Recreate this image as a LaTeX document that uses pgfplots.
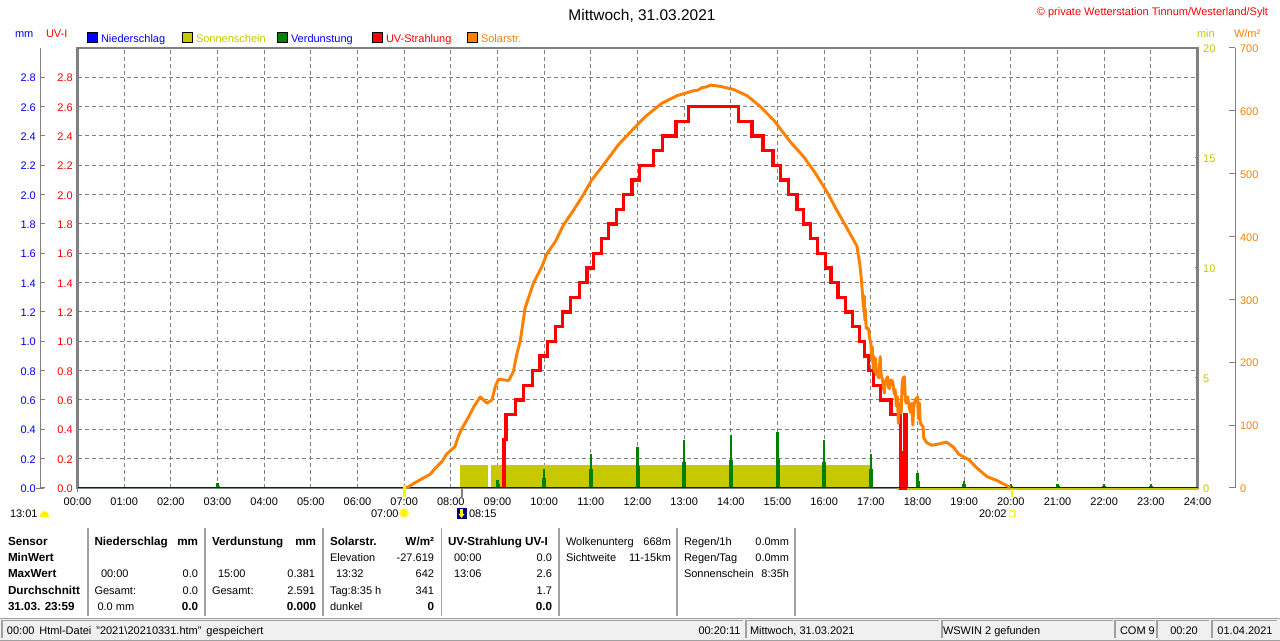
\documentclass[border=0pt]{standalone}
\usepackage{pgfplots}
\pgfplotsset{compat=1.18}
\usepackage{fontspec}
\setmainfont{Liberation Sans}
\definecolor{gridgray}{HTML}{808080}
\definecolor{olive}{HTML}{C8C800}
\definecolor{dgreen}{HTML}{008000}
\definecolor{uvred}{HTML}{FF0000}
\definecolor{solar}{HTML}{FF8000}
\definecolor{mmblue}{HTML}{0000FF}
\definecolor{sep}{HTML}{A0A0A0}
\definecolor{panel}{HTML}{F0F0F0}
\newcommand{\nf}{\fontsize{8.25pt}{10pt}\selectfont}
\newcommand{\bfn}{\fontsize{8.75pt}{10pt}\selectfont\bfseries}
\pgfplotsset{
  base/.style={at={(58.125pt,114.75pt)},anchor=south west,scale only axis,
    width=840pt,height=330pt,xmin=0,xmax=24,
    /pgf/number format/assume math mode=true,
    tick label style={font=\nf},
    major tick length=2.25pt},
  overlayaxis/.style={base,hide axis,ymin=0,clip=false}
}
\begin{document}
\begin{tikzpicture}
\path[use as bounding box,fill=white] (0,0) rectangle (960pt,480.75pt);

% frame, grid, time axis and UV-I labels
\begin{axis}[base,ymin=0,ymax=3,
  xtick={0,1,...,24},
  xticklabels={00:00,01:00,02:00,03:00,04:00,05:00,06:00,07:00,08:00,09:00,10:00,11:00,12:00,13:00,14:00,15:00,16:00,17:00,18:00,19:00,20:00,21:00,22:00,23:00,24:00},
  ytick={0,0.2,...,2.8},
  yticklabel style={uvred,yshift=-0.6pt,/pgf/number format/fixed,/pgf/number format/fixed zerofill,/pgf/number format/precision=1},
  xticklabel style={black,yshift=-4.2pt},
  tick style={draw=none},
  grid=major,
  grid style={gridgray,line width=0.75pt,dash pattern=on 3pt off 2.25pt},
  axis line style={gridgray,line width=2pt}]
\addplot[draw=none,forget plot] coordinates {(0,0)(24,0)};
\end{axis}

% Sonnenschein, min axis on the right
\begin{axis}[base,ymin=0,ymax=20,clip=false,
  axis y line*=right,axis x line=none,
  ytick={0,5,10,15,20},
  yticklabel style={olive,xshift=0.7pt,yshift=-0.6pt},
  tick style={gridgray,line width=0.75pt},
  axis line style={gridgray,line width=2pt}]
\addplot[fill=olive,draw=none] coordinates {(8.20,0)(8.20,1.05)(8.80,1.05)(8.80,0)} --cycle;
\addplot[fill=olive,draw=none] coordinates {(8.865,0)(8.865,1.05)(17.0,1.05)(17.0,0)} --cycle;
\addplot[olive,line width=1.5pt] coordinates {(17.56,-0.05)(24,-0.05)};
\end{axis}

% Niederschlag, Verdunstung, UV
\begin{axis}[overlayaxis,ymax=3]
% Verdunstung: lower, broad part of each spike
\addplot[ycomb,dgreen,line width=3pt] coordinates {
 (3,0.012)(9,0.025)(10,0.07)(11,0.13)(12,0.15)(13,0.18)(14,0.19)(15,0.20)(16,0.18)(17,0.13)(18,0.05)(19,0.025)(20,0.012)(21,0.012)(22,0.012)(23,0.012)};
% Verdunstung: peak of each spike
\addplot[ycomb,dgreen,line width=1.9pt] coordinates {
 (3,0.035)(9,0.055)(10,0.13)(11,0.235)(12,0.28)(13,0.33)(14,0.36)(15,0.381)(16,0.33)(17,0.235)(18,0.10)(19,0.05)(20,0.03)(21,0.03)(22,0.03)(23,0.03)};
% UV
\addplot[const plot,uvred,line width=2.5pt,line join=miter] coordinates {
 (9.14,0)(9.14,0.33)(9.18,0.5)(9.379,0.6)(9.557,0.7)(9.75,0.8)(9.914,0.9)(10.072,1.0)(10.24,1.1)(10.39,1.2)
 (10.558,1.3)(10.758,1.4)(10.915,1.5)(11.058,1.6)(11.222,1.7)(11.38,1.8)(11.544,1.9)(11.701,2.0)(11.88,2.1)
 (12.044,2.2)(12.344,2.3)(12.537,2.4)(12.823,2.5)(13.094,2.6)(14.166,2.5)(14.452,2.4)(14.688,2.3)(14.902,2.2)
 (15.059,2.1)(15.238,2.0)(15.417,1.9)(15.56,1.8)(15.703,1.7)(15.86,1.6)(16.024,1.5)(16.146,1.4)(16.296,1.3)
 (16.453,1.2)(16.609,1.1)(16.759,1.0)(16.867,0.9)(16.952,0.8)(17.06,0.7)(17.2,0.6)(17.43,0.5)(17.63,0)
 (17.665,0.24)(17.69,0)(17.725,0.5)(17.75,0)(17.76,0)};
% Niederschlag
\addplot[mmblue,line width=1.1pt] coordinates {(0,0.004)(24,0.004)};
\end{axis}

% Solarstrahlung
\begin{axis}[overlayaxis,ymax=700]
\addplot[solar,line width=2.2pt,line join=round] coordinates {
 (7.02,0)(7.09,2)(7.20,7)(7.34,13)(7.56,22)(7.66,31)(7.81,42)(7.91,54)(8.09,66)(8.16,82)(8.24,95)(8.38,113)
 (8.49,129)(8.63,145)(8.77,135)(8.88,140)(8.95,161)(9.02,173)(9.24,171)(9.34,185)(9.41,212)(9.49,235)(9.59,286)
 (9.77,326)(9.95,352)(10.06,373)(10.24,392)(10.41,418)(10.63,442)(10.81,463)(11.02,490)(11.27,514)(11.59,546)
 (11.92,572)(12.17,591)(12.52,612)(12.84,624)(13.20,632)(13.30,633)(13.38,637)(13.47,638)(13.57,641)(13.77,639)(14.06,634)(14.35,624)
 (14.63,607)(14.92,585)(15.27,551)(15.56,527)(15.81,501)(16.06,471)(16.27,442)(16.49,413)(16.70,385)(16.76,358)
 (16.80,330)(16.83,299)(16.85,283)(16.86,305)(16.87,267)(16.88,285)(16.90,254)(16.95,254)(16.97,240)(17.00,230)(17.02,205)
 (17.03,225)(17.05,190)(17.06,210)(17.08,185)(17.10,206)(17.12,180)(17.13,190)(17.17,175)(17.20,209)(17.22,180)(17.25,172)
 (17.27,160)(17.29,151)(17.31,170)(17.36,177)(17.38,160)(17.40,158)(17.43,172)(17.47,169)(17.50,150)(17.52,156)(17.55,130)(17.57,145)
 (17.59,103)(17.61,135)(17.65,119)(17.67,165)(17.69,175)(17.72,177)(17.74,140)(17.76,135)(17.79,145)(17.82,129)(17.85,120)(17.88,135)(17.90,100)
 (17.92,130)(17.95,140)(18.00,145)(18.02,110)(18.04,135)(18.06,103)(18.12,97)(18.13,80)(18.20,72)(18.31,68)(18.45,70)
 (18.62,73)(18.77,65)(18.88,54)(19.10,45)(19.27,32)(19.49,18)(19.70,12)(19.88,5)(19.99,1)};
\end{axis}

% outer mm axis on the far left
\begin{axis}[at={(30.4pt,114.75pt)},anchor=south west,scale only axis,width=1pt,height=330pt,
  xmin=0,xmax=1,ymin=0,ymax=3,axis y line*=left,axis x line=none,
  /pgf/number format/assume math mode=true,tick label style={font=\nf},
  major tick length=3.4pt,
  ytick={0,0.2,...,2.8},
  yticklabel style={mmblue,yshift=-0.6pt,/pgf/number format/fixed,/pgf/number format/fixed zerofill,/pgf/number format/precision=1},
  tick style={gridgray,line width=0.75pt},
  axis line style={gridgray,line width=0.9pt}]
\addplot[draw=none,forget plot] coordinates {(0,0)(1,0)};
\end{axis}

% outer W/m2 axis on the far right
\begin{axis}[at={(925.5pt,114.75pt)},anchor=south west,scale only axis,width=1pt,height=330pt,
  xmin=0,xmax=1,ymin=0,ymax=700,axis y line*=right,axis x line=none,
  /pgf/number format/assume math mode=true,tick label style={font=\nf},
  major tick length=4.5pt,
  ytick={0,100,...,700},
  yticklabel style={solar,yshift=-0.6pt},
  tick style={gridgray,line width=0.75pt},
  axis line style={gridgray,line width=0.9pt}]
\addplot[draw=none,forget plot] coordinates {(0,0)(1,0)};
\end{axis}

% everything else in pixel coordinates of the reference
\begin{scope}[shift={(0,480.75pt)},x=0.75pt,y=-0.75pt,inner sep=0pt,outer sep=0pt]
\newcommand{\tl}[3]{\node[anchor=base west,font=\nf] at (#1,#2) {#3};}
\newcommand{\tr}[3]{\node[anchor=base east,font=\nf] at (#1,#2) {#3};}
\newcommand{\bl}[3]{\node[anchor=base west,font=\bfn] at (#1,#2) {#3};}
\newcommand{\br}[3]{\node[anchor=base east,font=\bfn] at (#1,#2) {#3};}
% title
\node[anchor=base,font=\fontsize{11.6pt}{13pt}\selectfont] at (642,20.5) {Mittwoch, 31.03.2021};
\node[anchor=base east,font=\nf,text=uvred] at (1268,16) {© private Wetterstation Tinnum/Westerland/Sylt};
% unit labels
\node[anchor=base west,font=\nf,text=mmblue] at (15,38) {mm};
\node[anchor=base west,font=\nf,text=uvred] at (46,38) {UV-I};
\node[anchor=base west,font=\nf,text=olive] at (1197,38) {min};
\node[anchor=base west,font=\nf,text=solar] at (1234,38) {W/m²};
% legend
\foreach \x/\c in {87/mmblue,182/olive,277/dgreen,372/uvred,467/solar}{
  \fill[\c,draw=black,line width=0.75pt] (\x,33) rectangle (\x+10,43);}
\node[anchor=base west,font=\nf,text=mmblue] at (101,43) {Niederschlag};
\node[anchor=base west,font=\nf,text=olive] at (196,43) {Sonnenschein};
\node[anchor=base west,font=\nf,text=mmblue] at (291,43) {Verdunstung};
\node[anchor=base west,font=\nf,text=uvred] at (386,43) {UV-Strahlung};
\node[anchor=base west,font=\nf,text=solar] at (481,43) {Solarstr.};
% small axis stubs and sun markers below the axis
\fill[gridgray] (36,488) rectangle (44,489);
\fill[gridgray] (76.5,488) rectangle (78,492);
\fill[yellow] (403,485) rectangle (405.5,497);
\fill[gridgray] (460.5,489) rectangle (463,497);
\fill[yellow] (1010.5,489) rectangle (1013,497);
\tl{10}{518}{13:01}
\fill[yellow] (40,517) arc (180:360:4.5 and 6) -- cycle;
\tl{371}{518}{07:00}
\fill[yellow!70!white] (404,513) circle (5);
\fill[yellow] (404,513) circle (3);
\fill[blue!50!black] (457,508) rectangle (467,519);
\fill[yellow] (460,509) rectangle (463,514);
\fill[yellow] (458.5,514) -- (464.5,514) -- (461.5,518) -- cycle;
\tl{469}{518}{08:15}
\tl{979}{518}{20:02}
\draw[yellow!70!white,line width=0.9pt] (1009.5,511) rectangle (1015,516.5);
% table separators
\foreach \x in {88,205,323,441.5,559,677,795}{
  \draw[sep,line width=1.1pt] (\x,528) -- (\x,616);}
% column 1
\bl{8}{546}{Sensor}\bl{8}{562}{MinWert}\bl{8}{578}{MaxWert}\bl{8}{595}{Durchschnitt}\bl{8}{611}{31.03. 23:59}
% Niederschlag
\bl{94.5}{546}{Niederschlag}\br{198}{546}{mm}
\tl{101}{578}{00:00}\tr{198}{578}{0.0}
\tl{94.5}{595}{Gesamt:}\tr{198}{595}{0.0}
\tl{97.5}{611}{0.0 mm}\br{198}{611}{0.0}
% Verdunstung
\bl{212}{546}{Verdunstung}\br{316}{546}{mm}
\tl{218}{578}{15:00}\tr{315}{578}{0.381}
\tl{212}{595}{Gesamt:}\tr{315}{595}{2.591}
\br{316}{611}{0.000}
% Solar
\bl{330}{546}{Solarstr.}\br{434}{546}{W/m²}
\tl{330}{562}{Elevation}\tr{434}{562}{-27.619}
\tl{336}{578}{13:32}\tr{434}{578}{642}
\tl{330}{595}{Tag:8:35 h}\tr{434}{595}{341}
\tl{330}{611}{dunkel}\br{434}{611}{0}
% UV
\bl{448}{546}{UV-Strahlung UV-I}
\tl{454}{562}{00:00}\tr{552}{562}{0.0}
\tl{454}{578}{13:06}\tr{552}{578}{2.6}
\tr{552}{595}{1.7}
\br{552}{611}{0.0}
% clouds
\tl{566}{546}{Wolkenunterg}\tr{671}{546}{668m}
\tl{566}{562}{Sichtweite}\tr{671}{562}{11-15km}
% rain
\tl{684}{546}{Regen/1h}\tr{789}{546}{0.0mm}
\tl{684}{562}{Regen/Tag}\tr{789}{562}{0.0mm}
\tl{684}{578}{Sonnenschein}\tr{789}{578}{8:35h}
% status bar
\fill[panel] (0,619) rectangle (1280,640);
\draw[sep,line width=1.1pt] (0,618.5) -- (1280,618.5);
\draw[sep,line width=1.1pt] (0,640.3) -- (1280,640.3);
\foreach \a/\b in {2/743,746/939,942/1113,1115/1155,1157/1209,1212/1277}{
  \draw[sep,line width=1.3pt] (\a,638) -- (\a,620.5) -- (\b,620.5);}
\tl{7}{635}{00:00\hspace{0.45em}Html-Datei\hspace{0.45em}"2021\textbackslash 20210331.htm"\hspace{0.45em}gespeichert}
\tr{740.5}{635}{00:20:11}
\tl{750}{635}{Mittwoch, 31.03.2021}
\tl{943}{635}{WSWIN 2 gefunden}
\tl{1120}{635}{COM 9}
\node[anchor=base,font=\nf] at (1184,635) {00:20};
\node[anchor=base,font=\nf] at (1245,635) {01.04.2021};
\end{scope}
\end{tikzpicture}
\end{document}
